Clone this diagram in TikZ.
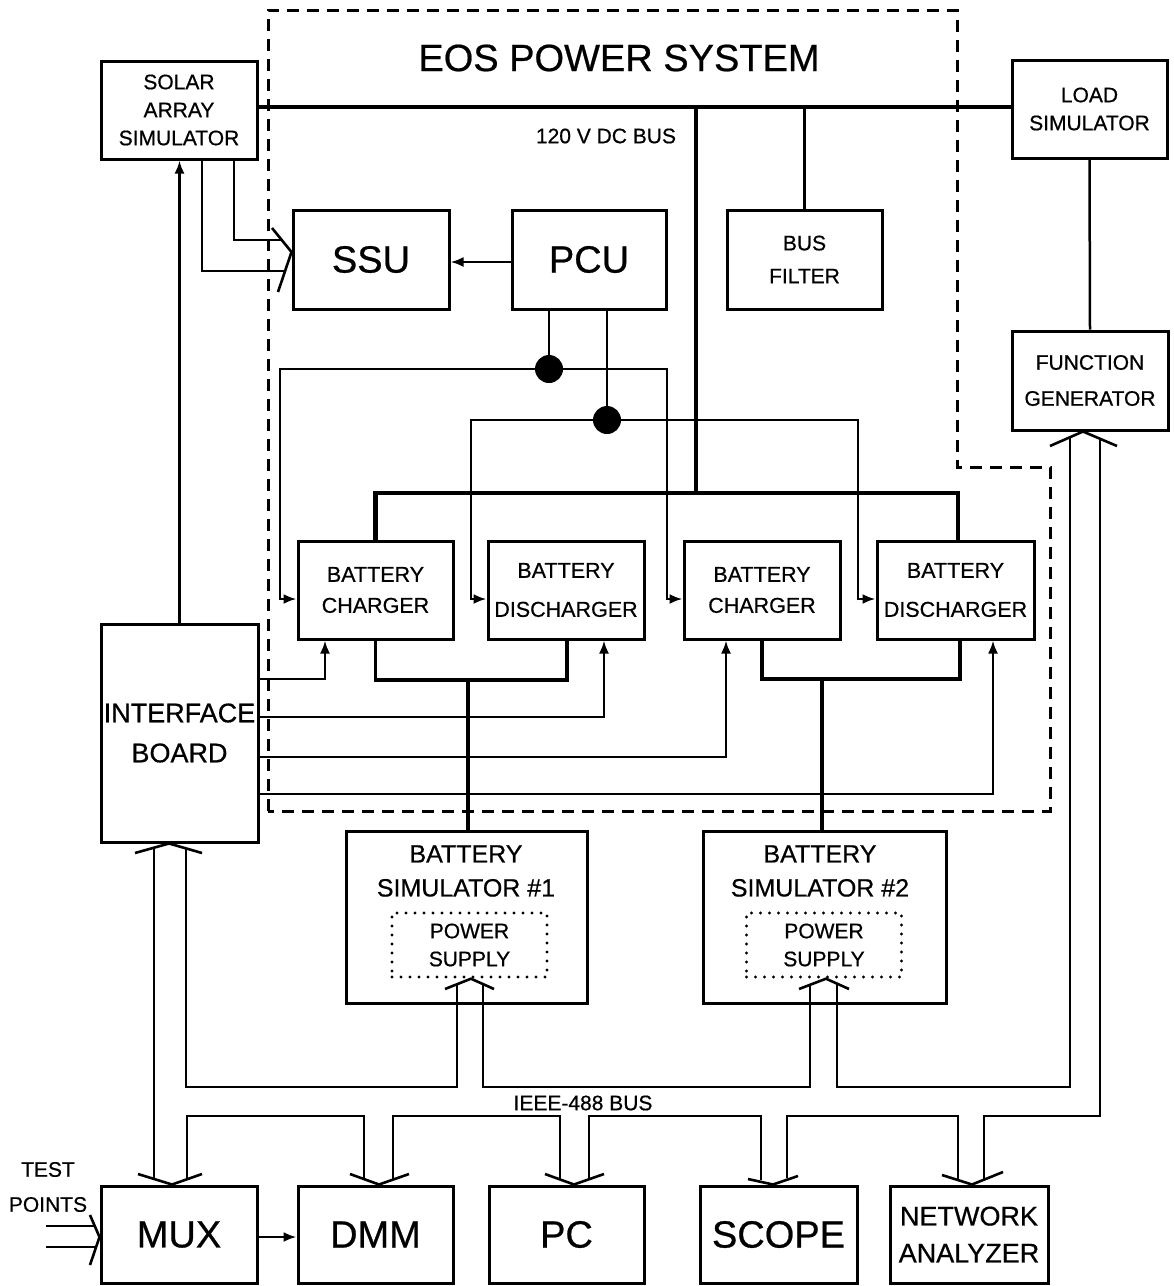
\documentclass[tikz,border=0pt]{standalone}
\usepackage{fontspec}
\setmainfont{Liberation Sans}[FakeBold=0.6]
\usetikzlibrary{arrows.meta}
\newcommand\fsz[2]{\fontsize{#1}{#2}\selectfont\addfontfeature{FakeBold=0.6}}

\begin{document}
\begin{tikzpicture}[x=1pt,y=-1pt,
  unit/.style={draw, line width=3pt, inner sep=0pt, align=center},
  wire/.style={line width=2.5pt},
  heavybus/.style={line width=4.8pt},
  feedline/.style={line width=3.8pt},
  arr/.style={line width=2.5pt, -{Latex[length=13pt,width=10pt]}},
  chev/.style={line width=2.6pt, line join=miter},
  jdot/.style={circle, fill, inner sep=0pt, minimum size=28pt},
  boundary/.style={line width=3pt, dash pattern=on 12pt off 8pt},
  psbox/.style={draw, line width=3.4pt, line cap=round, dash pattern=on 0pt off 9pt,
                inner sep=0pt, align=center, minimum width=155pt, minimum height=64pt},
  bigtxt/.style={font=\fsz{38}{38}},
]
\useasboundingbox (0,0) rectangle (1174,1286);

% EOS power system boundary
\draw[boundary] (268,811) -- (268,10) -- (957,10) -- (957,467) -- (1050,467) -- (1050,811) -- cycle;
\node[bigtxt] (title) at (619,58) {EOS POWER SYSTEM};
\node[font=\fsz{21}{21}] (buslbl) at (606,136) {120 V DC BUS};

% units
\node[unit, minimum width=156pt, minimum height=98pt, font=\fsz{21}{28}] (sas) at (179,110) {SOLAR\\ARRAY\\SIMULATOR};
\node[unit, minimum width=155pt, minimum height=98pt, font=\fsz{21}{28}] (load) at (1089.5,109) {LOAD\\SIMULATOR};
\node[unit, minimum width=156pt, minimum height=99pt, font=\fsz{21}{36}] (fg) at (1090,380.5) {FUNCTION\\GENERATOR};
\node[unit, minimum width=156pt, minimum height=99pt, bigtxt] (ssu) at (371,259.5) {SSU};
\node[unit, minimum width=154pt, minimum height=99pt, bigtxt] (pcu) at (589,259.5) {PCU};
\node[unit, minimum width=155pt, minimum height=99pt, font=\fsz{21}{33}] (bf) at (804.5,259.5) {BUS\\FILTER};

\node[unit, minimum width=155pt, minimum height=98pt, font=\fsz{21.5}{31}] (ch1) at (375.5,590) {BATTERY\\CHARGER};
\node[unit, minimum width=156pt, minimum height=98pt, font=\fsz{21.5}{39}] (dc1) at (566,590) {BATTERY\\DISCHARGER};
\node[unit, minimum width=156pt, minimum height=98pt, font=\fsz{21.5}{31}] (ch2) at (762,590) {BATTERY\\CHARGER};
\node[unit, minimum width=157pt, minimum height=98pt, font=\fsz{21.5}{39}] (dc2) at (955.5,590) {BATTERY\\DISCHARGER};

\node[unit, minimum width=157pt, minimum height=218pt, font=\fsz{27}{40}] (ib) at (179.5,733) {INTERFACE\\BOARD};

\node[unit, minimum width=241pt, minimum height=172pt] (bs1) at (466.5,917) {};
\node[font=\fsz{25}{34}, align=center] (bs1t) at (466,871) {BATTERY\\SIMULATOR \#1};
\node[psbox, font=\fsz{21}{28}] (ps1) at (469.5,945) {POWER\\SUPPLY};
\node[unit, minimum width=243pt, minimum height=172pt] (bs2) at (824.5,917) {};
\node[font=\fsz{25}{34}, align=center] (bs2t) at (820,871) {BATTERY\\SIMULATOR \#2};
\node[psbox, font=\fsz{21}{28}] (ps2) at (824,945) {POWER\\SUPPLY};

\node[unit, minimum width=156pt, minimum height=97pt, bigtxt] (mux) at (179,1234.5) {MUX};
\node[unit, minimum width=155pt, minimum height=97pt, bigtxt] (dmm) at (375.5,1234.5) {DMM};
\node[unit, minimum width=155pt, minimum height=97pt, bigtxt] (pc) at (566.5,1234.5) {PC};
\node[unit, minimum width=157pt, minimum height=97pt, bigtxt] (scope) at (778.5,1234.5) {SCOPE};
\node[unit, minimum width=158pt, minimum height=97pt, font=\fsz{27}{37}] (na) at (969,1234.5) {NETWORK\\ANALYZER};

\node[font=\fsz{21}{35}, align=center] (tp) at (48,1187) {TEST\\POINTS};
\node[font=\fsz{21}{21}] (ieee) at (583,1103) {IEEE-488 BUS};

% 120 V DC bus and its branches
\draw[heavybus] (sas.east |- 0,107) -- (load.west |- 0,107);
\coordinate (bustap) at (696,107);
\coordinate (feedtap) at (696,493);
\draw[heavybus] (bustap) -- (feedtap);
\draw[wire] (bf.north) -- (bf.north |- 0,107);
\draw[heavybus] (ch1.north) |- (958,493) -- (958,0 |- dc2.north);
\draw[wire] (load.south) -- (fg.north);

% PCU to SSU, solar array to SSU
\draw[arr] (pcu.west |- 0,262) -- (ssu.east |- 0,262);
\draw[wire] (234,0 |- sas.south) |- (283,240);
\draw[wire] (202,0 |- sas.south) |- (286,271);
\draw[chev] (272,228) -- (ssu.west |- 0,252) -- (278,292);
\draw[arr] (ib.north) -- (ib.north |- sas.south);

% PCU control lines to chargers and dischargers
\node[jdot] (dot1) at (549,369) {};
\node[jdot] (dot2) at (607,420) {};
\draw[wire] (549,0 |- pcu.south) -- (dot1);
\draw[wire] (607,0 |- pcu.south) -- (dot2);
\draw[arr] (dot1) -| (280,599) -- (ch1.west |- 0,599);
\draw[arr] (dot1) -| (667,599) -- (ch2.west |- 0,599);
\draw[arr] (dot2) -| (471,599) -- (dc1.west |- 0,599);
\draw[arr] (dot2) -| (858,599) -- (dc2.west |- 0,599);

% charger / discharger outputs to the battery simulators
\draw[feedline] (ch1.south) |- (567,680) -- (567,0 |- dc1.south);
\draw[feedline] (468,680) -- (468,0 |- bs1.north);
\draw[feedline] (ch2.south) |- (960,679) -- (960,0 |- dc2.south);
\draw[feedline] (822,679) -- (822,0 |- bs2.north);

% interface board control lines
\draw[arr] (ib.east |- 0,679) -| (325,0 |- ch1.south);
\draw[arr] (ib.east |- 0,717) -| (604,0 |- dc1.south);
\draw[arr] (ib.east |- 0,757) -| (726,0 |- ch2.south);
\draw[arr] (ib.east |- 0,794) -| (993,0 |- dc2.south);

% bundle arrowheads
\draw[chev] (135,853) -- (169,0 |- ib.south) -- (202,853);
\draw[chev] (445,989) -- (471,0 |- ps1.south) -- (494,989);
\draw[chev] (799,989) -- (826,0 |- ps2.south) -- (849,989);
\draw[chev] (1050,446) -- (1083,0 |- fg.south) -- (1117,446);
\draw[chev] (138,1174) -- (172,0 |- mux.north) -- (202,1174);
\draw[chev] (350,1174) -- (379,0 |- dmm.north) -- (409,1174);
\draw[chev] (545,1174) -- (574,0 |- pc.north) -- (604,1174);
\draw[chev] (748,1179) -- (773,0 |- scope.north) -- (798,1176);
\draw[chev] (942,1175) -- (972,0 |- na.north) -- (1003,1172);
\draw[chev] (90,1215) -- (mux.west |- 0,1237) -- (90,1265);

% IEEE-488 bus wiring
\draw[wire] (154,847) -- (154,1180);
\draw[wire] (186,848) |- (457,1087) -- (457,983.5);
\draw[wire] (483,983) |- (810,1087) -- (810,984);
\draw[wire] (837,983) |- (1070,1087) -- (1070,437);
\draw[wire] (1100,438.5) |- (984,1116) -- (984,1179);
\draw[wire] (187,1180) |- (364,1116) -- (364,1180);
\draw[wire] (393,1180) |- (560,1116) -- (560,1180);
\draw[wire] (589,1180) |- (761,1116) -- (761,1180);
\draw[wire] (787,1177.5) |- (958,1116) -- (958,1180);

% MUX to DMM, test point inputs
\draw[arr] (mux.east |- 0,1237) -- (dmm.west |- 0,1237);
\draw[wire] (46,1226) -- (95.5,1226);
\draw[wire] (46,1247) -- (97,1247);
\end{tikzpicture}
\end{document}
